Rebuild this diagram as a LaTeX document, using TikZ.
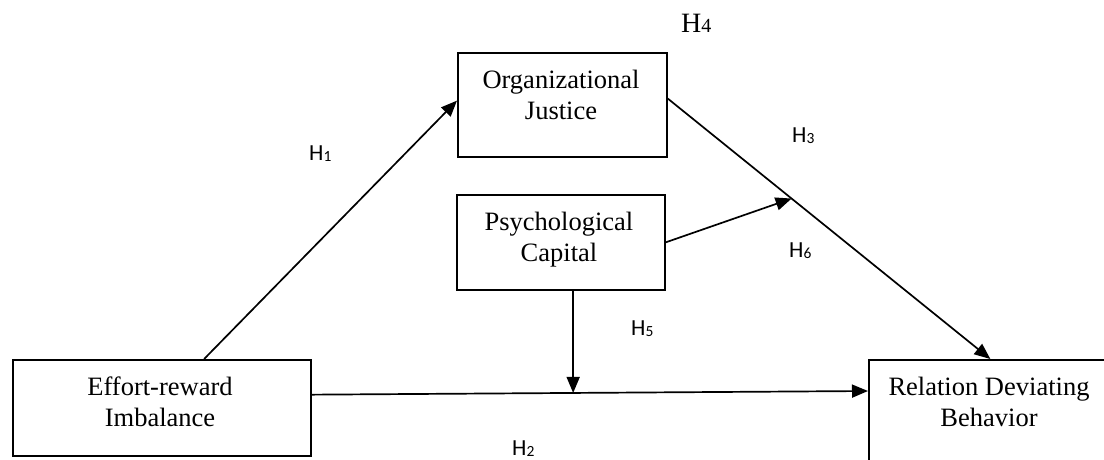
\documentclass[tikz,border=0pt]{standalone}
\usepackage{fontspec}
\setmainfont{Liberation Serif}
\newfontfamily\labelfont{Carlito}
\usetikzlibrary{arrows.meta,calc}

% hypothesis label: sans H with a small lowered index
\newcommand\hyp[1]{H\raisebox{-0.08em}{\fontsize{15.5}{15.5}\selectfont #1}}

\begin{document}
\begin{tikzpicture}[x=1pt,y=-1pt,
  box/.style={draw, line width=1.7pt, rectangle, inner sep=0pt, anchor=north west},
  boxtext/.style={align=center, font=\fontsize{26.5}{31}\selectfont, inner sep=0pt, anchor=base},
  link/.style={line width=1.7pt, -{Triangle[length=16pt,width=13pt]}},
  hyplabel/.style={font=\labelfont\fontsize{23}{23}\selectfont, inner sep=0pt, anchor=base west}]

\useasboundingbox (0,0) rectangle (1104,459);
\clip (0,0) rectangle (1104,459);

% construct boxes
\node[box, minimum width=298pt, minimum height=96pt] (eri) at (12,359) {};
\node[box, minimum width=209pt, minimum height=104pt] (oj) at (457,52) {};
\node[box, minimum width=208pt, minimum height=95pt] (pc) at (456,194) {};
\node[box, minimum width=243pt, minimum height=130pt] (rdb) at (868,359) {};

% box texts (anchored at the baseline of the second line)
\node[boxtext] (erit) at (160,426) {Effort-reward\\Imbalance};
\node[boxtext] (ojt) at (561,119) {Organizational\\Justice};
\node[boxtext] (pct) at (559,261) {Psychological\\Capital};
\node[boxtext] (rdbt) at (989,426) {Relation Deviating\\Behavior};

% connector end points
\coordinate (ojout) at ($(oj.north east)!0.44!(oj.south east)$);
\coordinate (eriout) at ($(eri.north east)!0.365!(eri.south east)$);
\coordinate (rdbin) at ($(rdb.north west)+(0,32)$);
\coordinate (hsix) at ($(ojout)!0.384!(rdb.north)$);
\coordinate (hfive) at ($(eriout)!0.47!(rdbin)$);

% paths
\draw[link] ($(eri.north west)!0.641!(eri.north east)$) -- ($(oj.north west)!0.46!(oj.south west)$);
\draw[link] (ojout) -- (rdb.north);
\draw[link] (eriout) -- (rdbin);
\draw[link] (pc.east) -- (hsix);
\draw[link] (pc.south -| hfive) -- (hfive);

% hypothesis labels
\node[anchor=base west, inner sep=0pt, font=\fontsize{28}{28}\selectfont] (h4) at (681,32) {H\raisebox{-0.03em}{\fontsize{20}{20}\selectfont 4}};
\node[hyplabel] (h1) at (309,160) {\hyp{1}};
\node[hyplabel] (h3) at (792,142) {\hyp{3}};
\node[hyplabel] (h6) at (789,257) {\hyp{6}};
\node[hyplabel] (h5) at (631,335) {\hyp{5}};
\node[hyplabel] (h2) at (512,455) {\hyp{2}};
\end{tikzpicture}
\end{document}
